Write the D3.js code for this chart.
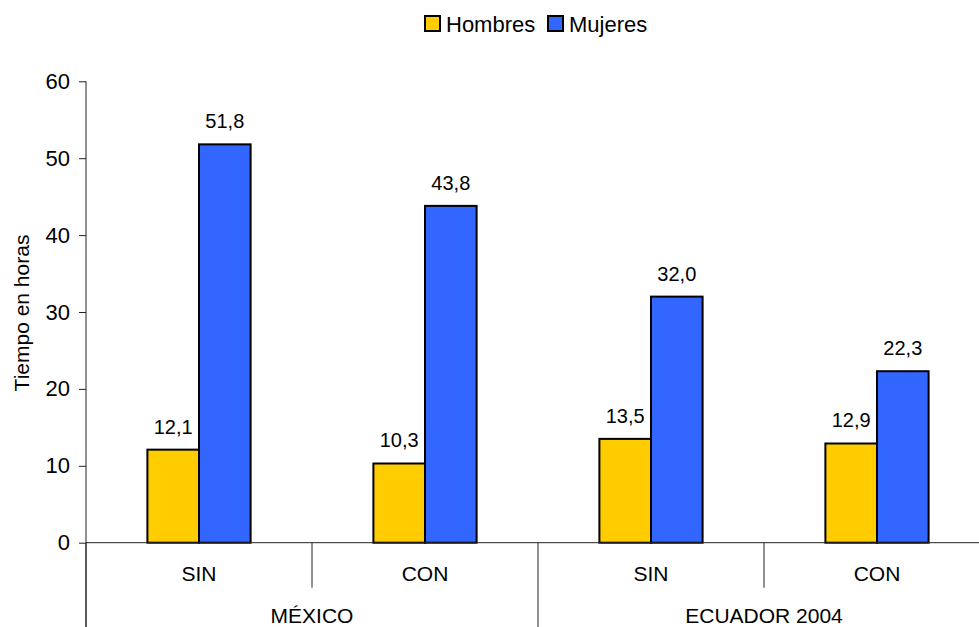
<!DOCTYPE html>
<html>
<head>
<meta charset="utf-8">
<script src="https://cdn.jsdelivr.net/npm/d3@7"></script>
<style>
  body { margin: 0; background: #fff; }
  svg { display: block; font-family: "Liberation Sans", Arial, sans-serif; }
</style>
</head>
<body>
<svg width="979" height="627"></svg>
<script>
// data
const series = ["Hombres", "Mujeres"]
const colors = ["#FFCC00", "#3366FF"]
const catLabels = ["SIN", "CON", "SIN", "CON"]
const groups = ["MÉXICO", "ECUADOR 2004"]
const hombres = [12.1, 10.3, 13.5, 12.9]
const mujeres = [51.8, 43.8, 32.0, 22.3]
const yTicks = [0, 10, 20, 30, 40, 50, 60]

const values = [hombres, mujeres]
const fmt = v => d3.format(".1f")(v).replace(".", ",")

const svg = d3.select("svg")
const plotL = 86, plotR = 990, plotT = 81.3, plotB = 542.7

const x0 = d3.scaleBand()
  .domain(d3.range(catLabels.length))
  .range([plotL, plotR])
  .padding(0)

const x1 = d3.scaleBand()
  .domain(series)
  .range([0, x0.bandwidth()])
  .paddingInner(0)
  .paddingOuter(1.19)

const y = d3.scaleLinear().domain([0, 60]).range([plotB, plotT])

// groups: 2 categories each
const xg = d3.scaleBand().domain(groups).range([plotL, plotR])

// y axis
const yAxis = svg.append("g")
  .attr("transform", `translate(${plotL},0)`)
  .call(d3.axisLeft(y).tickValues(yTicks).tickSize(7).tickSizeOuter(0).tickPadding(9))
yAxis.select(".domain").remove()
yAxis.selectAll(".tick line").attr("stroke", "#222")
yAxis.selectAll(".tick text")
  .attr("font-size", 22)
  .attr("font-family", "Liberation Sans, Arial, sans-serif")
  .attr("fill", "#000")

// bars
const rows = d3.range(catLabels.length).flatMap(i =>
  series.map((s, j) => ({cat: i, s: s, v: values[j][i], c: colors[j]})))

svg.append("g").selectAll("rect")
  .data(rows)
  .enter()
  .append("rect")
  .attr("x", d => x0(d.cat) + x1(d.s))
  .attr("width", x1.bandwidth())
  .attr("y", d => y(d.v))
  .attr("height", d => y(0) - y(d.v))
  .attr("fill", d => d.c)
  .attr("stroke", "#000")
  .attr("stroke-width", 2)

svg.append("g").selectAll("text")
  .data(rows)
  .enter()
  .append("text")
  .attr("x", d => x0(d.cat) + x1(d.s) + x1.bandwidth() / 2)
  .attr("y", d => y(d.v) - 16)
  .attr("text-anchor", "middle")
  .attr("font-size", 20)
  .text(d => fmt(d.v))

// axis lines
const axisG = svg.append("g").attr("stroke", "#222").attr("stroke-width", 1)
axisG.append("line")
  .attr("x1", plotL).attr("x2", plotL)
  .attr("y1", y(60)).attr("y2", 627)
axisG.append("line")
  .attr("x1", plotL).attr("x2", plotR)
  .attr("y1", y(0)).attr("y2", y(0))

// category separators (short) and group separators (long)
const catEdges = d3.range(catLabels.length).map(i => x0(i)).filter((v, i) => i % 2 === 1)
axisG.selectAll(".sep")
  .data(catEdges)
  .enter()
  .append("line")
  .attr("x1", d => d).attr("x2", d => d)
  .attr("y1", y(0)).attr("y2", y(0) + 45)
const groupEdges = groups.map(g => xg(g)).concat([plotR])
axisG.selectAll(".gsep")
  .data(groupEdges)
  .enter()
  .append("line")
  .attr("x1", d => d).attr("x2", d => d)
  .attr("y1", y(0)).attr("y2", 627)

// category labels
svg.append("g").selectAll("text")
  .data(catLabels)
  .enter()
  .append("text")
  .attr("x", (d, i) => x0(i) + x0.bandwidth() / 2)
  .attr("y", 581)
  .attr("text-anchor", "middle")
  .attr("font-size", 21)
  .text(d => d)

svg.append("g").selectAll("text")
  .data(groups)
  .enter()
  .append("text")
  .attr("x", d => xg(d) + xg.bandwidth() / 2)
  .attr("y", 623)
  .attr("text-anchor", "middle")
  .attr("font-size", 21)
  .text(d => d)

// y title
svg.append("text")
  .attr("transform", "translate(29,313) rotate(-90)")
  .attr("text-anchor", "middle")
  .attr("font-size", 21)
  .text("Tiempo en horas")

// legend
const legX = [425, 548]
const leg = svg.append("g").selectAll("g")
  .data(series)
  .enter()
  .append("g")
  .attr("transform", (d, i) => `translate(${legX[i]},16)`)
leg.append("rect")
  .attr("width", 15).attr("height", 15)
  .attr("fill", (d, i) => colors[i])
  .attr("stroke", "#000").attr("stroke-width", 2)
leg.append("text")
  .attr("x", 21).attr("y", 15.5)
  .attr("font-size", 22)
  .text(d => d)
</script>
</body>
</html>
